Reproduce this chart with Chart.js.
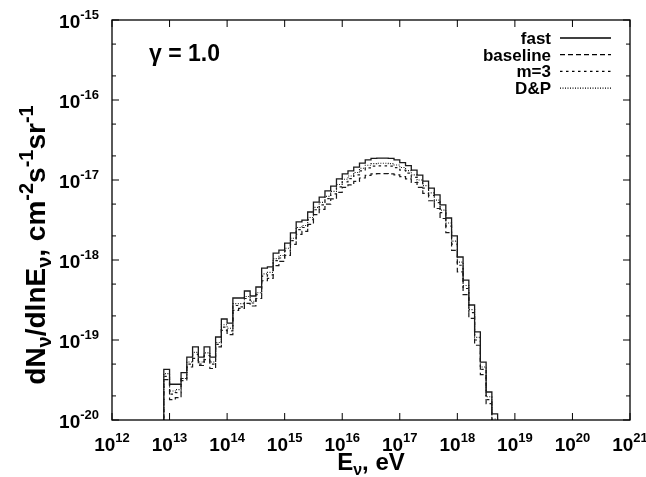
<!DOCTYPE html>
<html>
<head>
<meta charset="utf-8">
<script src="https://cdn.jsdelivr.net/npm/chart.js@4.4.1/dist/chart.umd.min.js"></script>
<style>
  html, body { margin: 0; padding: 0; background: #fff; }
</style>
</head>
<body>
<canvas id="myChart" width="646" height="477"></canvas>
<script>
// bin left edges (log10 E), last entry is right edge of the last bin
const binEdgesExp = [
  12.9, 13.0, 13.1, 13.2, 13.3, 13.4, 13.5, 13.6, 13.7, 13.8,
  13.9, 14.0, 14.1, 14.2, 14.3, 14.4, 14.5, 14.6, 14.7, 14.8,
  14.9, 15.0, 15.1, 15.2, 15.3, 15.4, 15.5, 15.6, 15.7, 15.8,
  15.9, 16.0, 16.1, 16.2, 16.3, 16.4, 16.5, 16.6, 16.7, 16.8,
  16.9, 17.0, 17.1, 17.2, 17.3, 17.4, 17.5, 17.6, 17.7, 17.8,
  17.9, 18.0, 18.1, 18.2, 18.3, 18.4, 18.5, 18.6, 18.7
];

const fast = [
  4.3e-20, 2.8e-20, 2.8e-20, 3.9e-20, 6.1e-20, 8.2e-20, 6.1e-20, 8.2e-20, 6.1e-20, 1.09e-19,
  1.83e-19, 1.63e-19, 3.35e-19, 3.35e-19, 4.1e-19, 3.55e-19, 4.6e-19, 7.9e-19, 8.2e-19, 1.22e-18,
  1.33e-18, 1.63e-18, 2.18e-18, 2.99e-18, 3.16e-18, 3.98e-18, 5.3e-18, 6.1e-18, 7.3e-18, 8.4e-18,
  1.03e-17, 1.19e-17, 1.30e-17, 1.45e-17, 1.63e-17, 1.78e-17, 1.86e-17, 1.88e-17, 1.88e-17, 1.86e-17,
  1.78e-17, 1.65e-17, 1.51e-17, 1.33e-17, 1.15e-17, 9.7e-18, 7.9e-18, 6.5e-18, 4.9e-18, 3.35e-18,
  2.0e-18, 1.09e-18, 5.6e-19, 2.74e-19, 1.26e-19, 5.3e-20, 2.24e-20, 1.19e-20
];

const baseline = [
  3.2e-20, 1.8e-20, 1.9e-20, 3.3e-20, 4.6e-20, 5.9e-20, 4.8e-20, 5.7e-20, 4.4e-20, 8.2e-20,
  1.32e-19, 1.17e-19, 2.35e-19, 2.48e-19, 2.87e-19, 2.66e-19, 3.3e-19, 5.5e-19, 5.9e-19, 8.5e-19,
  9.6e-19, 1.14e-18, 1.57e-18, 2.09e-18, 2.28e-18, 2.79e-18, 3.7e-18, 4.3e-18, 5.0e-18, 5.8e-18,
  7.0e-18, 8.1e-18, 8.7e-18, 9.6e-18, 1.06e-17, 1.14e-17, 1.19e-17, 1.2e-17, 1.2e-17, 1.19e-17,
  1.16e-17, 1.1e-17, 1.03e-17, 9.3e-18, 8.1e-18, 6.8e-18, 5.5e-18, 4.4e-18, 3.3e-18, 2.2e-18,
  1.32e-18, 7.1e-19, 3.7e-19, 1.86e-19, 8.6e-20, 3.7e-20, 1.6e-20, 8.9e-21
];

const m3 = [
  3.5e-20, 2.1e-20, 2.2e-20, 3.1e-20, 5.0e-20, 6.6e-20, 5.0e-20, 6.4e-20, 5.0e-20, 8.8e-20,
  1.45e-19, 1.3e-19, 2.7e-19, 2.6e-19, 3.3e-19, 2.9e-19, 3.7e-19, 6.3e-19, 6.5e-19, 9.8e-19,
  1.06e-18, 1.3e-18, 1.75e-18, 2.4e-18, 2.55e-18, 3.2e-18, 4.25e-18, 4.9e-18, 5.85e-18, 6.7e-18,
  8.2e-18, 9.5e-18, 1.04e-17, 1.16e-17, 1.3e-17, 1.42e-17, 1.49e-17, 1.5e-17, 1.5e-17, 1.49e-17,
  1.43e-17, 1.33e-17, 1.22e-17, 1.08e-17, 9.3e-18, 7.9e-18, 6.4e-18, 5.2e-18, 3.9e-18, 2.65e-18,
  1.58e-18, 8.6e-19, 4.4e-19, 2.2e-19, 1.0e-19, 4.3e-20, 1.8e-20, 9.5e-21
];

const dp = [
  3.8e-20, 2.3e-20, 2.4e-20, 3.3e-20, 5.3e-20, 7.0e-20, 5.3e-20, 6.9e-20, 5.3e-20, 9.3e-20,
  1.55e-19, 1.4e-19, 2.85e-19, 2.85e-19, 3.5e-19, 3.05e-19, 3.9e-19, 6.7e-19, 7.0e-19, 1.04e-18,
  1.14e-18, 1.4e-18, 1.87e-18, 2.55e-18, 2.7e-18, 3.4e-18, 4.55e-18, 5.25e-18, 6.25e-18, 7.2e-18,
  8.8e-18, 1.02e-17, 1.12e-17, 1.24e-17, 1.4e-17, 1.53e-17, 1.6e-17, 1.62e-17, 1.62e-17, 1.6e-17,
  1.54e-17, 1.43e-17, 1.31e-17, 1.16e-17, 1.0e-17, 8.5e-18, 6.9e-18, 5.6e-18, 4.2e-18, 2.9e-18,
  1.72e-18, 9.4e-19, 4.8e-19, 2.4e-19, 1.08e-19, 4.6e-20, 1.95e-20, 1.03e-20
];

const seriesNames = ['fast', 'baseline', 'm=3', 'D&P'];
const xTickExps = [12, 13, 14, 15, 16, 17, 18, 19, 20, 21];
const yTickExps = [-20, -19, -18, -17, -16, -15];
const yMinorMult = [2, 5];

const FONT = '"Liberation Sans", Arial, Helvetica, sans-serif';
const FLOOR = 1e-22; // below the axis, only used to close the histogram outline

function stepPoints(values) {
  const pts = [{ x: Math.pow(10, binEdgesExp[0]), y: FLOOR }];
  values.forEach((v, i) => pts.push({ x: Math.pow(10, binEdgesExp[i]), y: v }));
  const last = Math.pow(10, binEdgesExp[binEdgesExp.length - 1]);
  pts.push({ x: last, y: values[values.length - 1] });
  pts.push({ x: last, y: FLOOR });
  return pts;
}

const styles = [
  { dash: [], width: 1.3 },
  { dash: [5, 3], width: 1.2 },
  { dash: [2.5, 3.5], width: 1.2 },
  { dash: [1, 1.5], width: 1.1 }
];

const datasets = [fast, baseline, m3, dp].map((vals, i) => ({
  label: seriesNames[i],
  data: stepPoints(vals),
  borderColor: '#1a1a1a',
  borderWidth: styles[i].width,
  borderDash: styles[i].dash,
  stepped: 'before',
  pointRadius: 0,
  fill: false,
  tension: 0
}));

function richWidth(ctx, segs) {
  let w = 0;
  segs.forEach(s => {
    ctx.font = 'bold ' + s.size + 'px ' + FONT;
    s.w = ctx.measureText(s.t).width;
    w += s.w;
  });
  return w;
}

function drawRich(ctx, segs, x, y, align) {
  const w = richWidth(ctx, segs);
  let cx = align === 'right' ? x - w : align === 'center' ? x - w / 2 : x;
  segs.forEach(s => {
    ctx.font = 'bold ' + s.size + 'px ' + FONT;
    ctx.fillText(s.t, cx, y + (s.dy || 0));
    cx += s.w;
  });
}

const decor = {
  id: 'decor',
  afterDraw(chart) {
    const ctx = chart.ctx;
    const a = chart.chartArea;
    const xs = chart.scales.x, ys = chart.scales.y;
    ctx.save();
    ctx.fillStyle = '#000';
    ctx.strokeStyle = '#000';
    ctx.textBaseline = 'alphabetic';

    // frame
    ctx.lineWidth = 1.3;
    ctx.strokeRect(a.left, a.top, a.right - a.left, a.bottom - a.top);

    // ticks (inward) and labels
    ctx.lineWidth = 1;
    ctx.beginPath();
    xTickExps.forEach(e => {
      const px = xs.getPixelForValue(Math.pow(10, e));
      ctx.moveTo(px, a.bottom); ctx.lineTo(px, a.bottom - 7);
      ctx.moveTo(px, a.top); ctx.lineTo(px, a.top + 7);
    });
    yTickExps.forEach(e => {
      const py = ys.getPixelForValue(Math.pow(10, e));
      ctx.moveTo(a.left, py); ctx.lineTo(a.left + 7, py);
      ctx.moveTo(a.right, py); ctx.lineTo(a.right - 7, py);
      if (e < -15) {
        yMinorMult.forEach(m => {
          const pm = ys.getPixelForValue(m * Math.pow(10, e));
          ctx.moveTo(a.left, pm); ctx.lineTo(a.left + 4, pm);
          ctx.moveTo(a.right, pm); ctx.lineTo(a.right - 4, pm);
        });
      }
    });
    ctx.stroke();

    xTickExps.forEach(e => {
      const px = xs.getPixelForValue(Math.pow(10, e));
      drawRich(ctx, [{ t: '10', size: 19 }, { t: String(e), size: 13, dy: -9 }], px, 451, 'center');
    });
    yTickExps.forEach(e => {
      const py = ys.getPixelForValue(Math.pow(10, e));
      drawRich(ctx, [{ t: '10', size: 19 }, { t: String(e), size: 13, dy: -9 }], 99, py + 8, 'right');
    });

    // axis titles
    drawRich(ctx, [
      { t: 'E', size: 24 }, { t: '\u03bd', size: 16, dy: 5 }, { t: ', eV', size: 24 }
    ], (a.left + a.right) / 2, 470, 'center');

    ctx.save();
    ctx.translate(45, 245);
    ctx.rotate(-Math.PI / 2);
    drawRich(ctx, [
      { t: 'dN', size: 28 }, { t: '\u03bd', size: 20, dy: 6 },
      { t: '/dlnE', size: 28 }, { t: '\u03bd', size: 20, dy: 6 },
      { t: ', cm', size: 28 }, { t: '-2', size: 20, dy: -12 },
      { t: 's', size: 28 }, { t: '-1', size: 20, dy: -12 },
      { t: 'sr', size: 28 }, { t: '-1', size: 20, dy: -12 }
    ], 0, 0, 'center');
    ctx.restore();

    // gamma label
    drawRich(ctx, [{ t: '\u03b3 = 1.0', size: 23 }], 149, 61, 'left');

    // key
    chart.data.datasets.forEach((ds, i) => {
      const yb = 44 + i * 16.7;
      drawRich(ctx, [{ t: ds.label, size: 17 }], 551, yb, 'right');
      ctx.beginPath();
      ctx.lineWidth = ds.borderWidth;
      ctx.setLineDash(ds.borderDash);
      ctx.moveTo(560, yb - 6);
      ctx.lineTo(611, yb - 6);
      ctx.stroke();
      ctx.setLineDash([]);
    });
    ctx.restore();
  }
};

new Chart(document.getElementById('myChart'), {
  type: 'line',
  data: { datasets: datasets },
  options: {
    responsive: false,
    animation: false,
    devicePixelRatio: 1,
    layout: { padding: { left: 112, right: 16, top: 20, bottom: 57 } },
    plugins: { legend: { display: false }, tooltip: { enabled: false } },
    scales: {
      x: { type: 'logarithmic', min: 1e12, max: 1e21, display: false },
      y: { type: 'logarithmic', min: 1e-20, max: 1e-15, display: false }
    }
  },
  plugins: [decor]
});
</script>
</body>
</html>
